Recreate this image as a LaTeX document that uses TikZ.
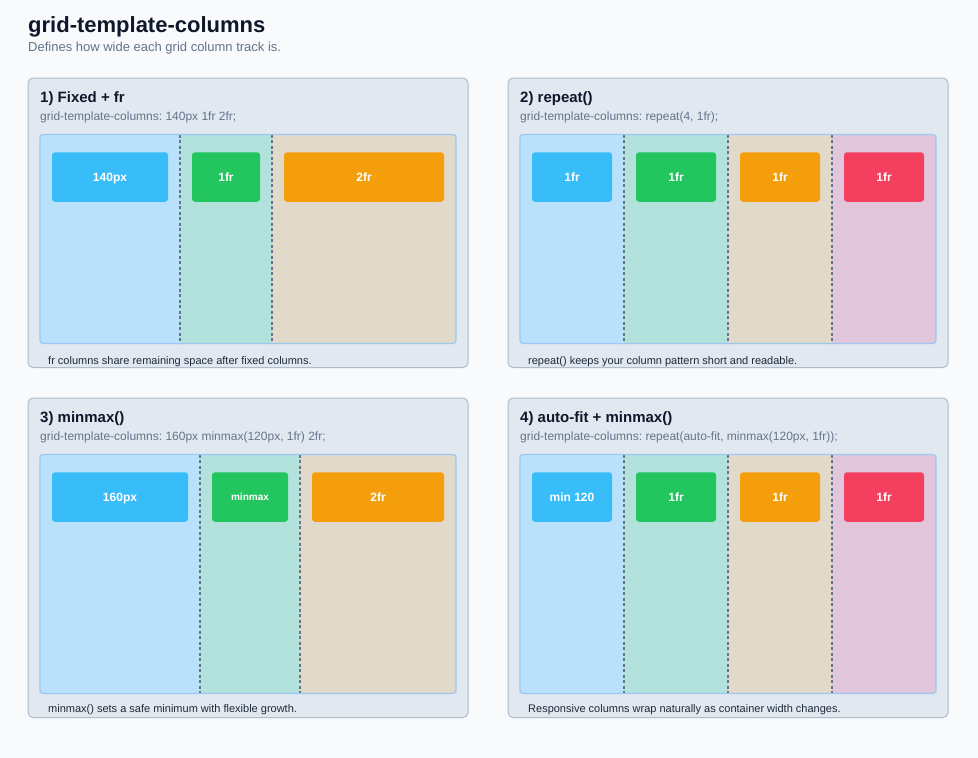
\documentclass[tikz,border=0pt]{standalone}
\usepackage{fontspec}
\setmainfont{Liberation Sans}
\frenchspacing
\definecolor{bg}{HTML}{F8FAFC}
\definecolor{panelfill}{HTML}{E2E8F0}
\definecolor{panelline}{HTML}{B0BCCB}
\definecolor{gridline}{HTML}{9CC8F2}
\definecolor{colA}{HTML}{BAE1FC}
\definecolor{colB}{HTML}{B3E2DC}
\definecolor{colC}{HTML}{E1D9C9}
\definecolor{colD}{HTML}{E1C6DC}
\definecolor{boxA}{HTML}{38BDF8}
\definecolor{boxB}{HTML}{22C55E}
\definecolor{boxC}{HTML}{F59E0B}
\definecolor{boxD}{HTML}{F43F5E}
\definecolor{divider}{HTML}{64748B}
\definecolor{titlec}{HTML}{0F172A}
\definecolor{subc}{HTML}{64748B}
\definecolor{footc}{HTML}{1E293B}
\begin{document}
\begin{tikzpicture}[x=1pt,y=-1pt,
  panel/.style={draw=panelline,fill=panelfill,line width=1pt,rounded corners=5pt},
  gridframe/.style={draw=gridline,line width=1.2pt,rounded corners=3pt},
  divline/.style={draw=divider,line width=1.2pt,dash pattern=on 3pt off 2.5pt},
  cellbox/.style={rounded corners=3pt,inner sep=0pt,text=white,text height=8.6pt,text depth=0pt,minimum height=49.5pt,font=\bfseries\fontsize{12}{14}\selectfont},
  ptitle/.style={anchor=base west,inner sep=0pt,text=titlec,font=\bfseries\fontsize{15}{18}\selectfont},
  psub/.style={anchor=base west,inner sep=0pt,text=subc,font=\fontsize{12}{14}\selectfont},
  pfoot/.style={anchor=base west,inner sep=0pt,text=footc,font=\fontsize{11}{13}\selectfont}
]
\fill[bg] (0,0) rectangle (978,758);
\useasboundingbox (0,0) rectangle (978,758);

\node[anchor=base west,inner sep=0pt,text=titlec,font=\bfseries\fontsize{22}{26}\selectfont] (title) at (28,32) {grid-template-columns};
\node[anchor=base west,inner sep=0pt,text=subc,font=\fontsize{13}{16}\selectfont] (subtitle) at (28,51.5) {Defines how wide each grid column track is.};

% ---------- Panel 1 ----------
\draw[panel] (28,78) rectangle (468,367.5);
\node[ptitle] (p1t) at (40,102) {1) Fixed + fr};
\node[psub] (p1s) at (40,120) {grid-template-columns: 140px 1fr 2fr;};
\begin{scope}
  \clip[rounded corners=3pt] (40,134.5) rectangle (456,343.5);
  \fill[colA] (40,134.5) rectangle (180,343.5);
  \fill[colB] (180,134.5) rectangle (272,343.5);
  \fill[colC] (272,134.5) rectangle (456,343.5);
\end{scope}
\draw[divline] (180,134.5) -- (180,343.5);
\draw[divline] (272,134.5) -- (272,343.5);
\draw[gridframe] (40,134.5) rectangle (456,343.5);
\node[cellbox,fill=boxA,minimum width=116pt] (p1a) at (110,177) {140px};
\node[cellbox,fill=boxB,minimum width=68pt] (p1b) at (226,177) {1fr};
\node[cellbox,fill=boxC,minimum width=160pt] (p1c) at (364,177) {2fr};
\node[pfoot] (p1f) at (48,364) {fr columns share remaining space after fixed columns.};

% ---------- Panel 2 ----------
\draw[panel] (508,78) rectangle (948,367.5);
\node[ptitle] (p2t) at (520,102) {2) repeat()};
\node[psub] (p2s) at (520,120) {grid-template-columns: repeat(4, 1fr);};
\begin{scope}
  \clip[rounded corners=3pt] (520,134.5) rectangle (936,343.5);
  \fill[colA] (520,134.5) rectangle (624,343.5);
  \fill[colB] (624,134.5) rectangle (728,343.5);
  \fill[colC] (728,134.5) rectangle (832,343.5);
  \fill[colD] (832,134.5) rectangle (936,343.5);
\end{scope}
\draw[divline] (624,134.5) -- (624,343.5);
\draw[divline] (728,134.5) -- (728,343.5);
\draw[divline] (832,134.5) -- (832,343.5);
\draw[gridframe] (520,134.5) rectangle (936,343.5);
\node[cellbox,fill=boxA,minimum width=80pt] (p2a) at (572,177) {1fr};
\node[cellbox,fill=boxB,minimum width=80pt] (p2b) at (676,177) {1fr};
\node[cellbox,fill=boxC,minimum width=80pt] (p2c) at (780,177) {1fr};
\node[cellbox,fill=boxD,minimum width=80pt] (p2d) at (884,177) {1fr};
\node[pfoot] (p2f) at (528,364) {repeat() keeps your column pattern short and readable.};

% ---------- Panel 3 ----------
\draw[panel] (28,398) rectangle (468,717.5);
\node[ptitle] (p3t) at (40,422) {3) minmax()};
\node[psub] (p3s) at (40,440) {grid-template-columns: 160px minmax(120px, 1fr) 2fr;};
\begin{scope}
  \clip[rounded corners=3pt] (40,454.5) rectangle (456,693.5);
  \fill[colA] (40,454.5) rectangle (200,693.5);
  \fill[colB] (200,454.5) rectangle (300,693.5);
  \fill[colC] (300,454.5) rectangle (456,693.5);
\end{scope}
\draw[divline] (200,454.5) -- (200,693.5);
\draw[divline] (300,454.5) -- (300,693.5);
\draw[gridframe] (40,454.5) rectangle (456,693.5);
\node[cellbox,fill=boxA,minimum width=136pt] (p3a) at (120,497) {160px};
\node[cellbox,fill=boxB,minimum width=76pt,text height=7.2pt,font=\bfseries\fontsize{10}{12}\selectfont] (p3b) at (250,497) {minmax};
\node[cellbox,fill=boxC,minimum width=132pt] (p3c) at (378,497) {2fr};
\node[pfoot] (p3f) at (48,712) {minmax() sets a safe minimum with flexible growth.};

% ---------- Panel 4 ----------
\draw[panel] (508,398) rectangle (948,717.5);
\node[ptitle] (p4t) at (520,422) {4) auto-fit + minmax()};
\node[psub] (p4s) at (520,440) {grid-template-columns: repeat(auto-fit, minmax(120px, 1fr));};
\begin{scope}
  \clip[rounded corners=3pt] (520,454.5) rectangle (936,693.5);
  \fill[colA] (520,454.5) rectangle (624,693.5);
  \fill[colB] (624,454.5) rectangle (728,693.5);
  \fill[colC] (728,454.5) rectangle (832,693.5);
  \fill[colD] (832,454.5) rectangle (936,693.5);
\end{scope}
\draw[divline] (624,454.5) -- (624,693.5);
\draw[divline] (728,454.5) -- (728,693.5);
\draw[divline] (832,454.5) -- (832,693.5);
\draw[gridframe] (520,454.5) rectangle (936,693.5);
\node[cellbox,fill=boxA,minimum width=80pt] (p4a) at (572,497) {min 120};
\node[cellbox,fill=boxB,minimum width=80pt] (p4b) at (676,497) {1fr};
\node[cellbox,fill=boxC,minimum width=80pt] (p4c) at (780,497) {1fr};
\node[cellbox,fill=boxD,minimum width=80pt] (p4d) at (884,497) {1fr};
\node[pfoot] (p4f) at (528,712) {Responsive columns wrap naturally as container width changes.};
\end{tikzpicture}
\end{document}
